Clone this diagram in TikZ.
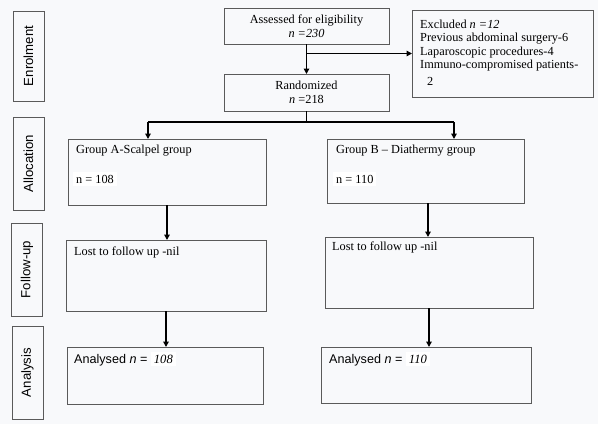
\documentclass[tikz,border=0pt]{standalone}
\usepackage{fontspec}
\setmainfont{Liberation Serif}
\setsansfont{Liberation Sans}
\usetikzlibrary{arrows.meta}

\definecolor{pagebg}{HTML}{F8F9FB}
\definecolor{boxline}{HTML}{5A5A5A}

\tikzset{
  box/.style={
    draw=boxline,
    line width=0.8pt,
    rectangle,
    inner sep=0pt,
    outer sep=0pt
  },
  phase/.style={
    box,
    rotate=90,
    font=\sffamily\fontsize{13.2}{15}\selectfont,
    minimum height=31pt
  },
  txt/.style={
    anchor=west,
    inner sep=0pt,
    font=\fontsize{12.3}{13.5}\selectfont
  },
  flow/.style={
    line width=1.6pt
  },
  flowarr/.style={
    flow,
    -{Triangle[length=5.5pt,width=5.5pt]}
  }
}

\begin{document}
\begin{tikzpicture}[x=1pt,y=-1pt]
  \fill[pagebg] (0,0) rectangle (598,424);
  \useasboundingbox (0,0) rectangle (598,424);

  % phase labels on the left
  \node[phase, minimum width=90pt] (enrol) at (28.5,56) {Enrolment};
  \node[phase, minimum width=93pt] (alloc) at (28.5,163.5) {Allocation};
  \node[phase, minimum width=93pt] (follow) at (27,269.5) {Follow-up};
  \node[phase, minimum width=93pt] (analys) at (27.5,372.5) {Analysis};

  % enrolment
  \node[box, minimum width=165pt, minimum height=36pt, align=center,
        font=\fontsize{12.3}{13.5}\selectfont] (asses) at (306.5,26)
    {Assessed for eligibility\\\textit{n =230}};
  \node[box, minimum width=165pt, minimum height=37pt, align=center,
        font=\fontsize{12.3}{13.5}\selectfont] (rand) at (306.5,92.5)
    {Randomized\\\textit{n} =218};
  \node[box, minimum width=181pt, minimum height=87pt] (excl) at (502.5,53.5) {};
  \node[txt, anchor=north west, align=left] (excltxt) at (420,19.5)
    {Excluded \textit{n =12}\\
     Previous abdominal surgery-6\\
     Laparoscopic procedures-4\\
     Immuno-compromised patients-\\[3pt]
     \hspace*{7pt}2};

  % allocation
  \node[box, minimum width=198pt, minimum height=66pt] (grpA) at (167,172) {};
  \node[box, minimum width=197pt, minimum height=64pt] (grpB) at (425.5,171) {};
  \node[txt] (grpAtxt) at (76,151) {Group A-Scalpel group};
  \node[txt, fill=white, inner sep=3pt] (grpAn) at (73,179) {n = 108};
  \node[txt] (grpBtxt) at (336,151) {Group B -- Diathermy group};
  \node[txt, fill=white, inner sep=3pt] (grpBn) at (333,179) {n = 110};

  % follow-up
  \node[box, minimum width=200pt, minimum height=71pt] (lostA) at (166,275.5) {};
  \node[box, minimum width=208pt, minimum height=71pt] (lostB) at (429,272.5) {};
  \node[txt] (lostAtxt) at (74,252) {Lost to follow up -nil};
  \node[txt] (lostBtxt) at (332,247) {Lost to follow up -nil};

  % analysis
  \node[box, minimum width=196pt, minimum height=57pt] (anaA) at (165,375.5) {};
  \node[box, minimum width=210pt, minimum height=56pt] (anaB) at (426,375) {};
  \node[txt, font=\sffamily\fontsize{12.6}{14}\selectfont] (anaAtxt) at (74,359)
    {Analysed \textit{n} = \colorbox{white}{\rmfamily\itshape 108}};
  \node[txt, font=\sffamily\fontsize{12.6}{14}\selectfont] (anaBtxt) at (329,359)
    {Analysed \textit{n} = \colorbox{white}{\rmfamily\itshape 110}};

  % connectors
  \coordinate (splitA) at (148,122);
  \coordinate (splitB) at (454,122);
  \coordinate (bdown) at (428,0);
  \draw[flowarr] (asses) -- (rand);
  \draw[flowarr] (asses.south |- excl.west) -- (excl.west);
  \draw[flow] (rand.south) -- (rand.south |- splitA);
  \draw[flow] (splitA) -- (splitB);
  \draw[flowarr] (splitA) -- (splitA |- grpA.north);
  \draw[flowarr] (splitB) -- (splitB |- grpB.north);
  \draw[flowarr] (grpA.south) -- (grpA.south |- lostA.north);
  \draw[flowarr] (bdown |- grpB.south) -- (bdown |- lostB.north);
  \draw[flowarr] (lostA.south) -- (lostA.south |- anaA.north);
  \draw[flowarr] (lostB.south) -- (lostB.south |- anaB.north);
\end{tikzpicture}
\end{document}
